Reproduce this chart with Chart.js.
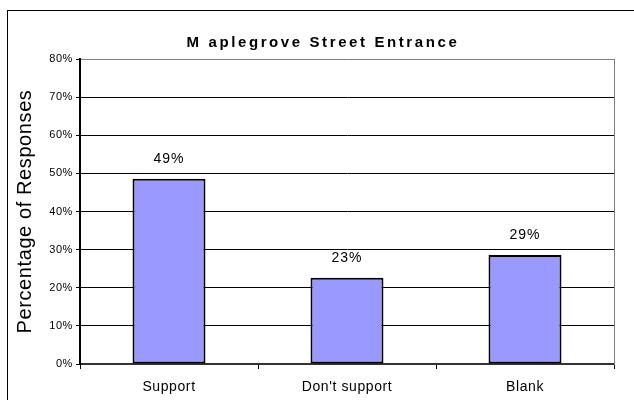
<!DOCTYPE html>
<html>
<head>
<meta charset="utf-8">
<script src="https://cdn.jsdelivr.net/npm/chart.js@4"></script>
<style>
html,body{margin:0;padding:0;background:#fff;}
canvas{display:block;}
</style>
</head>
<body>
<canvas id="c" width="634" height="400"></canvas>
<script>
const categories = ["Support", "Don't support", "Blank"];
const responseValues = [48.6, 22.6, 28.6];
const valueLabels = ["49%", "23%", "29%"];
const yTickLabels = ["0%", "10%", "20%", "30%", "40%", "50%", "60%", "70%", "80%"];
const chartTitle = "M aplegrove Street Entrance";
const yAxisTitle = "Percentage of Responses";

const FONT = "'Liberation Sans', Arial, sans-serif";
Chart.defaults.font.family = FONT;
Chart.defaults.color = '#000';

const framePlugin = {
  id: 'frame',
  beforeDraw(chart) {
    const ctx = chart.ctx;
    ctx.save();
    ctx.fillStyle = '#fff';
    ctx.fillRect(0, 0, chart.width, chart.height);
    ctx.strokeStyle = '#000';
    ctx.lineWidth = 1;
    ctx.strokeRect(7.5, 10.5, 1000, 1000);
    ctx.restore();
    ctx.letterSpacing = '0.6px';
  },
  afterLayout(chart) {
    const tb = chart.titleBlock;
    if (tb && !tb._spaced) {
      const orig = tb.draw.bind(tb);
      tb.draw = function (area) {
        const ctx = chart.ctx;
        ctx.save();
        ctx.letterSpacing = '2.6px';
        orig(area);
        ctx.restore();
      };
      tb._spaced = true;
    }
  }
};

const valueLabelPlugin = {
  id: 'valueLabels',
  afterDatasetsDraw(chart) {
    const ctx = chart.ctx;
    const meta = chart.getDatasetMeta(0);
    ctx.save();
    ctx.font = '14px ' + FONT;
    ctx.letterSpacing = '1px';
    ctx.fillStyle = '#000';
    ctx.textAlign = 'center';
    ctx.textBaseline = 'middle';
    meta.data.forEach((bar, i) => {
      ctx.fillText(valueLabels[i], bar.x, bar.y - 20);
    });
    ctx.restore();
  }
};

new Chart(document.getElementById('c'), {
  type: 'bar',
  data: {
    labels: categories,
    datasets: [{
      data: responseValues,
      backgroundColor: '#9999FF',
      borderColor: '#000',
      borderWidth: 2,
      borderSkipped: false,
      barPercentage: 0.41,
      categoryPercentage: 1
    }]
  },
  options: {
    responsive: false,
    animation: false,
    devicePixelRatio: 1,
    layout: { padding: { left: 12, right: 0, top: 0, bottom: 0 } },
    plugins: {
      legend: { display: false },
      tooltip: { enabled: false },
      title: {
        display: true,
        text: chartTitle,
        color: '#000',
        font: { size: 15, weight: 'bold', family: FONT, lineHeight: 1.2 },
        padding: { top: 34, bottom: 7 }
      }
    },
    scales: {
      x: {
        grid: {
          display: true,
          drawOnChartArea: false,
          drawTicks: true,
          tickLength: 5,
          color: '#000',
          offset: true
        },
        border: { display: true, color: '#333', width: 2 },
        ticks: {
          color: '#000',
          font: { size: 14, family: FONT },
          padding: 10,
          maxRotation: 0
        },
        afterFit(scale) { scale.height = 36; }
      },
      y: {
        min: 0,
        max: 80,
        ticks: {
          stepSize: 10,
          color: '#000',
          font: { size: 11, family: FONT },
          padding: 3,
          callback: (v, i) => yTickLabels[i]
        },
        grid: {
          color: (c) => (c.tick && c.tick.value === 80 ? '#808080' : '#000'),
          tickColor: '#000',
          tickLength: 4,
          lineWidth: 1
        },
        border: { display: true, color: '#000', width: 2 },
        title: {
          display: true,
          text: yAxisTitle,
          color: '#000',
          font: { size: 20, family: FONT, lineHeight: 1.2 },
          padding: { top: 1, bottom: 0 }
        },
        afterFit(scale) { scale.width = 68; }
      },
      y2: {
        type: 'linear',
        position: 'right',
        display: true,
        grid: { display: false, drawTicks: false },
        ticks: { display: false },
        border: { display: true, color: '#808080', width: 1 },
        afterFit(scale) { scale.width = 20; }
      }
    }
  },
  plugins: [framePlugin, valueLabelPlugin]
});
</script>
</body>
</html>
